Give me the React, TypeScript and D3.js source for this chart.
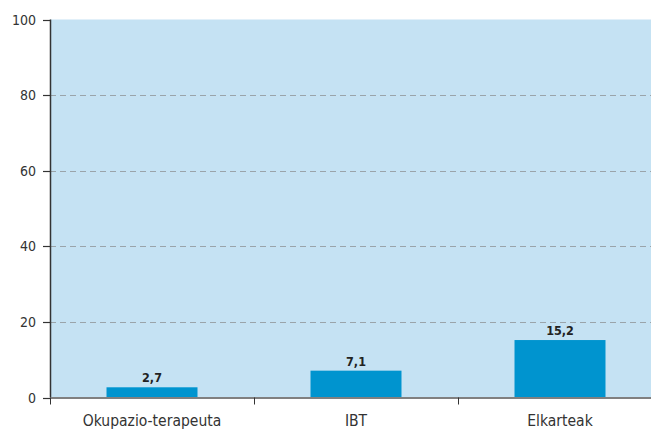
import React from "react";
import * as d3 from "d3";

const categories = ["Okupazio-terapeuta", "IBT", "Elkarteak"];
const values = [2.7, 7.1, 15.2];
const valueLabels = ["2,7", "7,1", "15,2"];
const yTicks = [0, 20, 40, 60, 80, 100];

const W = 651;
const H = 430;
const FONT = "'Liberation Sans Narrow', 'DejaVu Sans Condensed', 'Roboto Condensed', sans-serif";

export default function App() {
  const left = 50;
  const right = 662;
  const top = 19.5;
  const bottom = 397.5;

  const x = d3.scaleBand<string>().domain(categories).range([left, right]).paddingInner(0.554).paddingOuter(0.277);
  const y = d3.scaleLinear().domain([0, 100]).range([bottom, top]);
  const step = x.step();
  const boundaries = d3.range(categories.length + 1).map((i) => left + i * step);

  return (
    <svg width={W} height={H} style={{ position: "absolute", left: 0, top: 0, display: "block" }}>
      <rect x={left} y={top} width={right - left} height={bottom - top} fill="#c5e2f3" />
      {yTicks.filter((t) => t > 0 && t < 100).map((t) => (
        <line key={"g" + t} x1={left} x2={right} y1={Math.round(y(t)) + 0.5} y2={Math.round(y(t)) + 0.5}
          stroke="#9aa4aa" strokeWidth={1} strokeDasharray="6,4" />
      ))}
      {categories.map((c, i) => (
        <rect key={"b" + c} x={x(c)} y={y(values[i])} width={x.bandwidth()} height={bottom - y(values[i])} fill="#0094cf" />
      ))}
      {categories.map((c, i) => (
        <text key={"v" + c} x={(x(c) as number) + x.bandwidth() / 2} y={y(values[i]) - 5}
          textAnchor="middle" fontFamily={FONT} fontWeight="bold" fontSize={12.5} fill="#222">
          {valueLabels[i]}
        </text>
      ))}
      {/* y axis */}
      <line x1={left + 0.5} x2={left + 0.5} y1={top} y2={bottom} stroke="#333" strokeWidth={1.5} />
      {yTicks.map((t) => (
        <g key={"t" + t}>
          <line x1={43} x2={left} y1={Math.round(y(t)) + 0.5} y2={Math.round(y(t)) + 0.5} stroke="#333" strokeWidth={1.2} />
          <text x={36} y={y(t) + 5} textAnchor="end" fontFamily={FONT} fontSize={14} fill="#333">{t}</text>
        </g>
      ))}
      {/* x axis */}
      <line x1={left} x2={right} y1={bottom + 0.5} y2={bottom + 0.5} stroke="#808080" strokeWidth={2} />
      {boundaries.map((b, i) => (
        <line key={"xt" + i} x1={b + 0.5} x2={b + 0.5} y1={bottom} y2={bottom + 7} stroke="#333" strokeWidth={1} />
      ))}
      {categories.map((c) => (
        <text key={"c" + c} x={(x(c) as number) + x.bandwidth() / 2} y={426} textAnchor="middle"
          fontFamily={FONT} fontSize={15.5} fill="#333">{c}</text>
      ))}
    </svg>
  );
}
